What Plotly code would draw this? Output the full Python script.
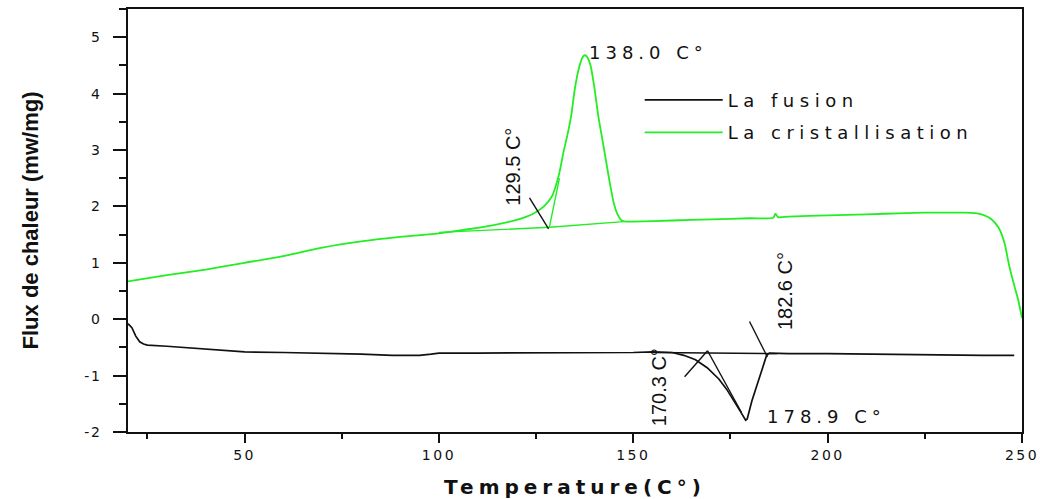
import plotly.graph_objects as go

# ---------------- data ----------------
cryst_T = [20, 30, 40, 50, 60, 70, 80, 90, 100, 105, 110, 115, 120, 124, 127, 129, 130, 131, 132, 133, 134,
           135, 136, 137, 137.5, 138, 139, 140, 141, 142, 143, 144, 145, 146, 147, 148, 150, 160, 170, 180,
           186, 186.6, 187.2, 190, 200, 210, 220, 225, 230, 235, 238, 240, 242, 244, 245.5, 246.7, 248, 249, 250]
cryst_flux = [0.67, 0.78, 0.88, 1.00, 1.12, 1.27, 1.38, 1.46, 1.52, 1.57, 1.62, 1.68, 1.76, 1.86, 2.00, 2.17, 2.35, 2.60, 2.95, 3.25, 3.60,
              4.10, 4.45, 4.65, 4.68, 4.66, 4.50, 4.10, 3.60, 3.20, 2.80, 2.40, 2.05, 1.85, 1.75, 1.73, 1.73, 1.75, 1.77, 1.79,
              1.80, 1.87, 1.81, 1.82, 1.84, 1.86, 1.88, 1.89, 1.89, 1.89, 1.88, 1.85, 1.78, 1.62, 1.35, 0.95, 0.60, 0.35, 0.02]

fusion_T = [20, 21, 22, 23, 24, 25, 30, 40, 50, 60, 70, 80, 88, 95, 98, 100, 110, 120, 130, 140, 150, 155,
            160, 163, 166, 169, 172, 174, 176, 177.5, 178.9, 179.3, 180.5, 181.5, 182.5, 183.5, 184.3, 185,
            190, 200, 210, 220, 230, 240, 248]
fusion_flux = [-0.08, -0.15, -0.30, -0.40, -0.44, -0.46, -0.48, -0.53, -0.58, -0.59, -0.60, -0.62, -0.64, -0.64, -0.62, -0.60, -0.60, -0.60, -0.60, -0.60, -0.59, -0.58,
               -0.59, -0.64, -0.72, -0.86, -1.06, -1.24, -1.45, -1.63, -1.79, -1.77, -1.45, -1.24, -1.02, -0.81, -0.64, -0.60,
               -0.61, -0.61, -0.62, -0.63, -0.63, -0.64, -0.64]

# tangent constructions (temperature, flux)
cryst_base_T = [100, 128.5, 147.5]
cryst_base_flux = [1.54, 1.63, 1.73]
cryst_onset_T = [128.4, 131.0]
cryst_onset_flux = [1.63, 2.50]
cryst_pointer_T = [123.3, 128.2]
cryst_pointer_flux = [2.15, 1.60]

fusion_base_T = [155, 187]
fusion_base_flux = [-0.59, -0.61]
fusion_onset_T = [169.1, 177.8]
fusion_onset_flux = [-0.56, -1.65]
fusion_pointer1_T = [163.2, 169.1]
fusion_pointer1_flux = [-1.02, -0.56]
fusion_pointer2_T = [179.9, 184.5]
fusion_pointer2_flux = [-0.04, -0.67]

# labels: (text, temperature, flux)
label_138 = ("138.0 C°", 138.2, 4.73)
label_1789 = ("178.9 C°", 183.8, -1.73)
label_1295 = ("129.5 C°", 119.0, 2.70)
label_1703 = ("170.3 C°", 156.8, -1.21)
label_1826 = ("182.6 C°", 188.9, 0.49)

x_range = [20, 250]
y_range = [-2, 5.5]
x_ticks = [50, 100, 150, 200, 250]
y_ticks = [-2, -1, 0, 1, 2, 3, 4, 5]

name_fusion = "La fusion"
name_cryst = "La cristallisation"

GREEN = "#22ee22"
BLACK = "#111111"


def spaced(t, px):
    return f"<span style='letter-spacing:{px}px'>{t}</span>"


fig = go.Figure()

fig.add_trace(go.Scatter(x=fusion_T, y=fusion_flux, mode="lines", name=spaced(name_fusion, 5.5),
                         legendgroup="f", line=dict(color=BLACK, width=1.7)))
fig.add_trace(go.Scatter(x=cryst_T, y=cryst_flux, mode="lines", name=spaced(name_cryst, 5.5),
                         legendgroup="c",
                         line=dict(color=GREEN, width=1.8, shape="spline", smoothing=0.6)))

aux = [
    (cryst_base_T, cryst_base_flux, GREEN),
    (cryst_onset_T, cryst_onset_flux, GREEN),
    (cryst_pointer_T, cryst_pointer_flux, BLACK),
    (fusion_base_T, fusion_base_flux, BLACK),
    (fusion_onset_T, fusion_onset_flux, BLACK),
    (fusion_pointer1_T, fusion_pointer1_flux, BLACK),
    (fusion_pointer2_T, fusion_pointer2_flux, BLACK),
]
for xs, ys, c in aux:
    fig.add_trace(go.Scatter(x=xs, y=ys, mode="lines", showlegend=False, hoverinfo="skip",
                             line=dict(color=c, width=1.4)))

ann_font_h = dict(family="DejaVu Sans", size=18, color="#111111")
ann_font_v = dict(family="Liberation Sans Narrow, Liberation Sans", size=20, color="#111111")
for txt, tx, ty in [label_138, label_1789]:
    fig.add_annotation(x=tx, y=ty, text=spaced(txt, 5), showarrow=False, xanchor="left", yanchor="middle",
                       font=ann_font_h)
for txt, tx, ty in [label_1295, label_1703, label_1826]:
    fig.add_annotation(x=tx, y=ty, text=txt, showarrow=False, textangle=-90, xanchor="center", yanchor="middle",
                       font=ann_font_v)

fig.update_layout(
    width=1043, height=499,
    margin=dict(l=128, r=21, t=9, b=67, autoexpand=False),
    paper_bgcolor="white", plot_bgcolor="white",
    showlegend=True,
    legend=dict(x=0.5724, y=0.828, xanchor="left", yanchor="top", bgcolor="rgba(0,0,0,0)",
                font=dict(family="DejaVu Sans", size=18, color="#111111"), itemwidth=78,
                tracegroupgap=6),
    font=dict(family="DejaVu Sans", color="#111111"),
)

fig.update_xaxes(
    range=x_range, tickvals=x_ticks, ticktext=[spaced(str(v), 2.5) for v in x_ticks],
    ticks="outside", ticklen=9, tickwidth=1.5, tickcolor=BLACK,
    showline=True, linecolor=BLACK, linewidth=1.8, mirror=True, showgrid=False, zeroline=False,
    automargin=False,
    tickfont=dict(family="DejaVu Sans", size=14, color="#111111"),
    minor=dict(ticks="outside", ticklen=5, dtick=25, tick0=0, tickcolor=BLACK, tickwidth=1.5),
    title=dict(text=spaced("Temperature(C°)", 5), standoff=18,
               font=dict(family="DejaVu Sans", size=20, color="#111111", weight="bold")),
)
fig.update_yaxes(
    range=y_range, tickvals=y_ticks, ticktext=[spaced(str(v), 1.5) for v in y_ticks],
    ticks="outside", ticklen=13, tickwidth=1.5, tickcolor=BLACK,
    showline=True, linecolor=BLACK, linewidth=1.8, mirror=True, showgrid=False, zeroline=False,
    automargin=False,
    tickfont=dict(family="DejaVu Sans", size=14, color="#111111"), ticklabelstandoff=9,
    minor=dict(ticks="outside", ticklen=7, dtick=0.5, tick0=0, tickcolor=BLACK, tickwidth=1.5),
    title=dict(text="Flux de chaleur (mw/mg)", standoff=40,
               font=dict(family="Liberation Sans Narrow, Liberation Sans", size=22, color="#111111", weight="bold")),
)

fig.write_html("out.html", config={"displayModeBar": False},
               post_script="document.body.style.margin='0';")
